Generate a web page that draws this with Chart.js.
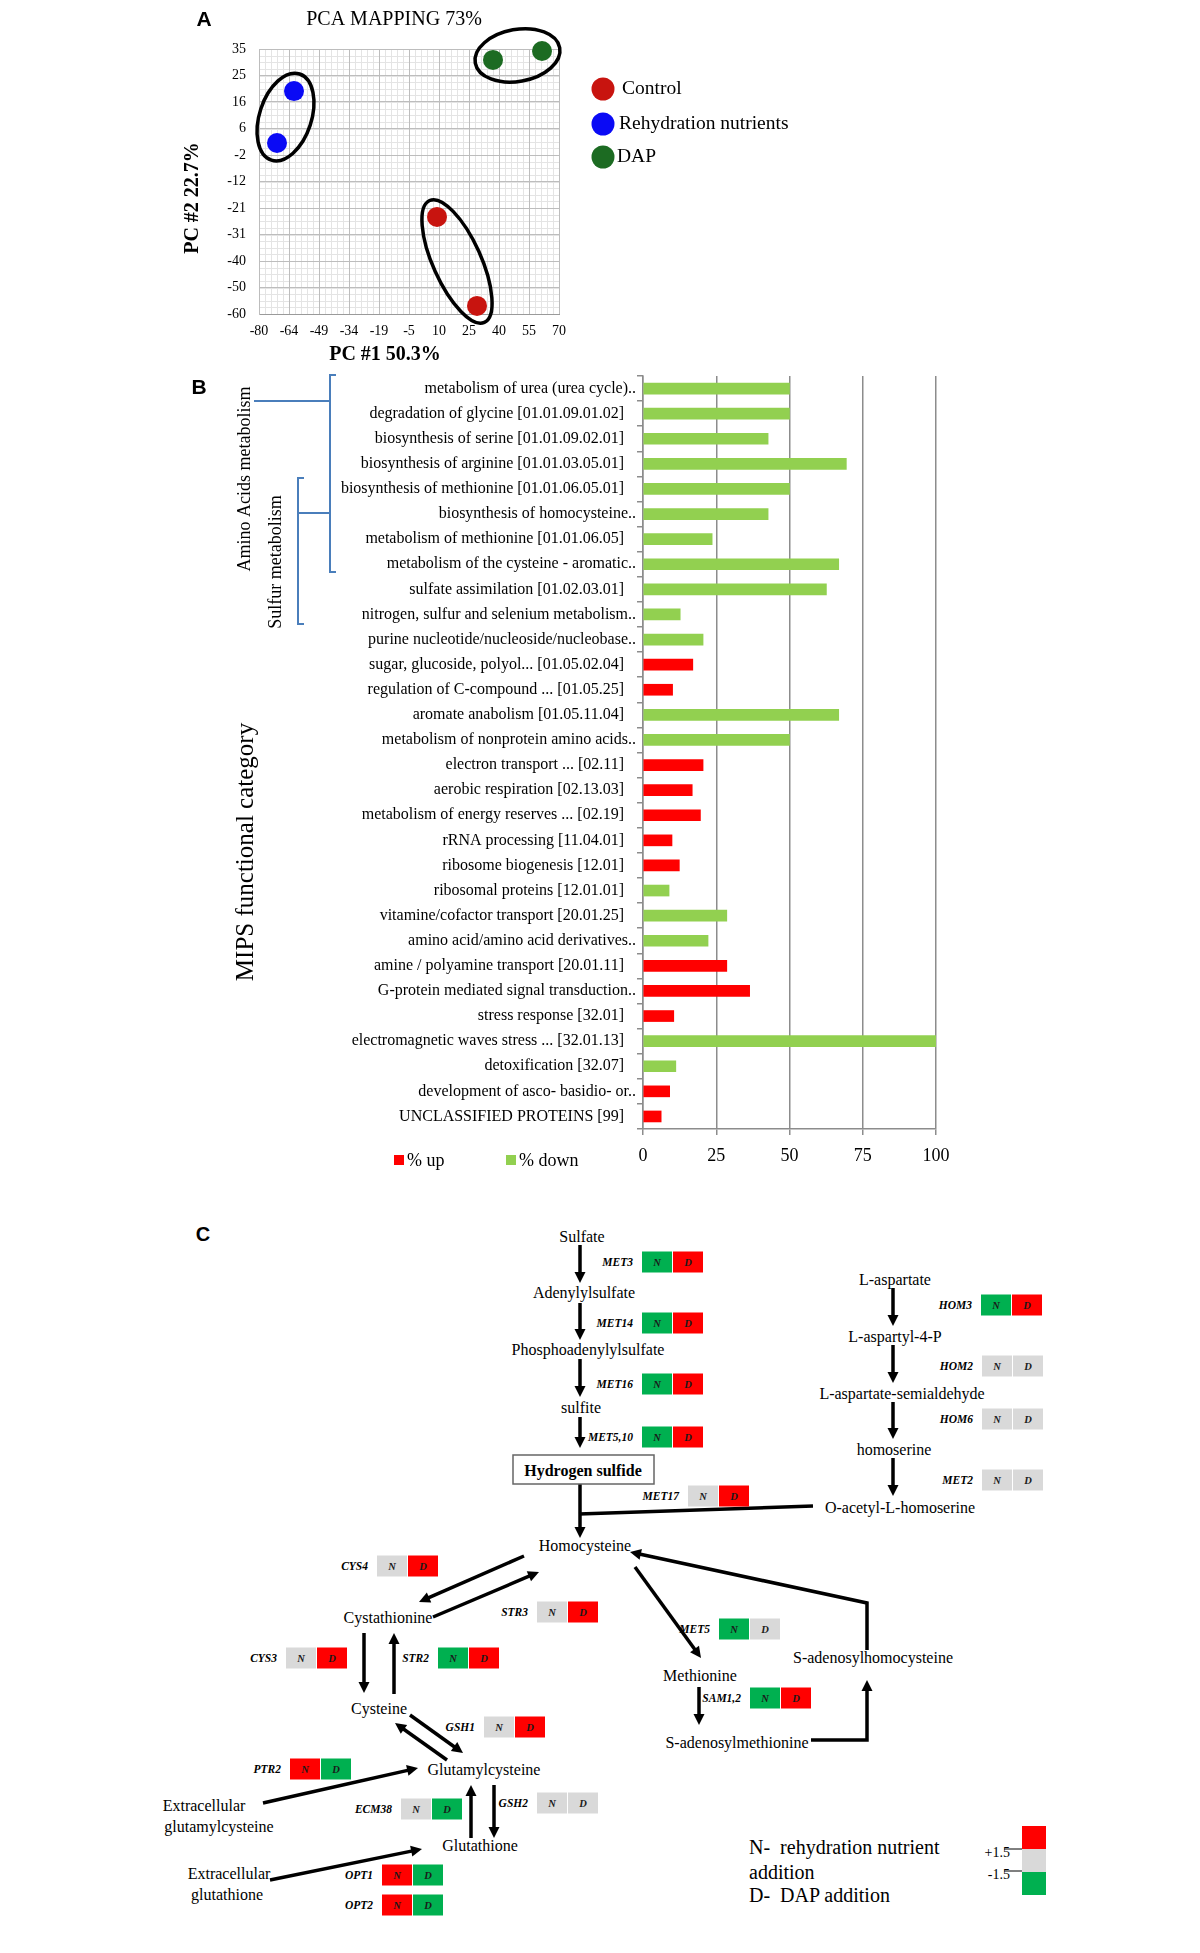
<!DOCTYPE html>
<html><head><meta charset="utf-8">
<script src="https://cdn.jsdelivr.net/npm/chart.js@4.4.1/dist/chart.umd.min.js"></script>
<style>
html,body{margin:0;padding:0;background:#fff;}
#page{position:relative;width:1200px;height:1953px;overflow:hidden;background:#fff;}
canvas,svg{position:absolute;left:0;}
#chartA,#chartB{top:0;}
#panelC{top:1190px;}
</style></head><body>
<div id="page">
<canvas id="chartA" width="1200" height="370"></canvas>
<canvas id="chartB" width="1200" height="1180"></canvas>
<svg id="panelC" xmlns="http://www.w3.org/2000/svg" width="1200" height="763" viewBox="0 1190 1200 763"></svg>
</div>
<script>
// ---------------- DATA ----------------
// Panel A: PCA scores
const pcaSeries = ['Control', 'Rehydration nutrients', 'DAP'];
const controlX = [9, 29];
const controlY = [-25.2, -57.1];
const rehydX = [-62.5, -71];
const rehydY = [19.9, 1.3];
const dapX = [37, 61.5];
const dapY = [31.1, 34.3];
const pcaXTicks = ['-80', '-64', '-49', '-34', '-19', '-5', '10', '25', '40', '55', '70'];
const pcaYTicks = ['-60', '-50', '-40', '-31', '-21', '-12', '-2', '6', '16', '25', '35'];

// Panel B: MIPS functional categories
const mipsCategories = [
  'metabolism of urea (urea cycle)..',
  'degradation of glycine [01.01.09.01.02]',
  'biosynthesis of serine [01.01.09.02.01]',
  'biosynthesis of arginine [01.01.03.05.01]',
  'biosynthesis of methionine [01.01.06.05.01]',
  'biosynthesis of homocysteine..',
  'metabolism of methionine [01.01.06.05]',
  'metabolism of the cysteine - aromatic..',
  'sulfate assimilation [01.02.03.01]',
  'nitrogen, sulfur and selenium metabolism..',
  'purine nucleotide/nucleoside/nucleobase..',
  'sugar, glucoside, polyol... [01.05.02.04]',
  'regulation of C-compound ... [01.05.25]',
  'aromate anabolism [01.05.11.04]',
  'metabolism of nonprotein amino acids..',
  'electron transport ... [02.11]',
  'aerobic respiration [02.13.03]',
  'metabolism of energy reserves ... [02.19]',
  'rRNA processing [11.04.01]',
  'ribosome biogenesis [12.01]',
  'ribosomal proteins [12.01.01]',
  'vitamine/cofactor transport [20.01.25]',
  'amino acid/amino acid derivatives..',
  'amine / polyamine transport [20.01.11]',
  'G-protein mediated signal transduction..',
  'stress response [32.01]',
  'electromagnetic waves stress ... [32.01.13]',
  'detoxification [32.07]',
  'development of asco- basidio- or..',
  'UNCLASSIFIED PROTEINS [99]'
];
const pctUp = [null, null, null, null, null, null, null, null, null, null, null, 17.0, 10.1, null, null,
  20.5, 16.8, 19.6, 9.9, 12.4, null, null, null, 28.6, 36.4, 10.5, null, null, 9.1, 6.2];
const pctDown = [50, 50, 42.7, 69.4, 50, 42.7, 23.6, 66.8, 62.6, 12.7, 20.5, null, null, 66.8, 50,
  null, null, null, null, null, 8.9, 28.6, 22.2, null, null, null, 100, 11.2, null, null];
const barSeries = ['% up', '% down'];

// Panel C: gene regulation (N = rehydration nutrients, D = DAP)
const geneNames = ['MET3', 'MET14', 'MET16', 'MET5,10', 'MET17', 'HOM3', 'HOM2', 'HOM6', 'MET2', 'CYS4', 'STR3',
  'CYS3', 'STR2', 'GSH1', 'PTR2', 'ECM38', 'GSH2', 'OPT1', 'OPT2', 'MET5', 'SAM1,2'];
const geneN = ['down', 'down', 'down', 'down', 'none', 'down', 'none', 'none', 'none', 'none', 'none',
  'none', 'down', 'none', 'up', 'none', 'none', 'up', 'up', 'down', 'down'];
const geneD = ['up', 'up', 'up', 'up', 'up', 'up', 'none', 'none', 'none', 'up', 'up',
  'up', 'up', 'up', 'down', 'down', 'none', 'down', 'down', 'none', 'up'];
const scaleLabels = ['+1.5', '-1.5'];

// ---------------- STYLE / LAYOUT ----------------
const SERIF = "'Liberation Serif', 'Times New Roman', serif";
const SANS = "'Liberation Sans', Arial, sans-serif";
const pcaColors = ['#c8140f', '#0a0af5', '#1c6b22'];
const upColor = '#ff0000', downColor = '#92d050';

function toPts(xs, ys) { return xs.map((x, i) => ({x: x, y: ys[i]})); }

// ---------------- PANEL A ----------------
const minorGridA = {
  id: 'minorGridA',
  beforeDraw(chart) {
    const {ctx, chartArea: a, scales: {x, y}} = chart;
    ctx.save();
    ctx.strokeStyle = '#e4e4e4';
    ctx.lineWidth = 1;
    ctx.beginPath();
    for (let v = -80; v <= 70.001; v += 3) {
      const px = Math.round(x.getPixelForValue(v)) + 0.5;
      ctx.moveTo(px, a.top); ctx.lineTo(px, a.bottom);
    }
    for (let v = -60; v <= 35.001; v += 9.5 / 4) {
      const py = Math.round(y.getPixelForValue(v)) + 0.5;
      ctx.moveTo(a.left, py); ctx.lineTo(a.right, py);
    }
    ctx.stroke();
    ctx.restore();
  }
};

const decorA = {
  id: 'decorA',
  afterDraw(chart) {
    const ctx = chart.ctx;
    ctx.save();
    // ellipses around replicate pairs
    chart.data.datasets.forEach((ds, di) => {
      const pts = chart.getDatasetMeta(di).data;
      const p1 = pts[0], p2 = pts[1];
      const cx = (p1.x + p2.x) / 2, cy = (p1.y + p2.y) / 2;
      const d = Math.hypot(p2.x - p1.x, p2.y - p1.y);
      const ang = Math.atan2(p2.y - p1.y, p2.x - p1.x);
      ctx.beginPath();
      ctx.ellipse(cx, cy, d / 2 + 18, di === 0 ? 24 : 26, ang, 0, Math.PI * 2);
      ctx.lineWidth = 3.5;
      ctx.strokeStyle = '#000';
      ctx.stroke();
    });
    // legend
    const ly = [89, 124, 157];
    const lx = [622, 619, 617];
    chart.data.datasets.forEach((ds, di) => {
      ctx.beginPath();
      ctx.arc(603, ly[di], 11.5, 0, Math.PI * 2);
      ctx.fillStyle = ds.backgroundColor;
      ctx.fill();
      ctx.fillStyle = '#000';
      ctx.font = '19.5px ' + SERIF;
      ctx.textAlign = 'left';
      ctx.textBaseline = 'middle';
      ctx.fillText(ds.label, lx[di], ly[di]);
    });
    // titles
    ctx.fillStyle = '#000';
    ctx.textAlign = 'center';
    ctx.textBaseline = 'middle';
    ctx.font = 'bold 21px ' + SANS;
    ctx.fillText('A', 204, 20);
    ctx.font = '20px ' + SERIF;
    ctx.fillText('PCA MAPPING 73%', 394, 20);
    ctx.font = 'bold 20px ' + SERIF;
    ctx.fillText('PC #1 50.3%', 385, 355);
    ctx.save();
    ctx.translate(193, 198);
    ctx.rotate(-Math.PI / 2);
    ctx.fillText('PC #2 22.7%', 0, 0);
    ctx.restore();
    ctx.restore();
  }
};

new Chart(document.getElementById('chartA'), {
  type: 'scatter',
  data: {
    datasets: [
      {label: pcaSeries[0], data: toPts(controlX, controlY), backgroundColor: pcaColors[0]},
      {label: pcaSeries[1], data: toPts(rehydX, rehydY), backgroundColor: pcaColors[1]},
      {label: pcaSeries[2], data: toPts(dapX, dapY), backgroundColor: pcaColors[2]}
    ].map(d => Object.assign(d, {pointRadius: 10, pointHoverRadius: 10, borderWidth: 0, clip: false}))
  },
  options: {
    responsive: false, animation: false, events: [],
    layout: {padding: {top: 49, right: 641, left: 0, bottom: 0}},
    plugins: {legend: {display: false}, tooltip: {enabled: false}, title: {display: false}},
    scales: {
      x: {
        type: 'linear', min: -80, max: 70,
        ticks: {stepSize: 15, autoSkip: false, maxRotation: 0, padding: 9, color: '#000',
          font: {family: SERIF, size: 14}, callback: (v, i) => pcaXTicks[i]},
        grid: {color: '#bdbdbd', lineWidth: 1, drawTicks: false},
        border: {color: '#9a9a9a', width: 1},
        afterFit: s => { s.height = 56; }
      },
      y: {
        type: 'linear', min: -60, max: 35,
        ticks: {stepSize: 9.5, autoSkip: false, padding: 13, color: '#000',
          font: {family: SERIF, size: 14}, callback: (v, i) => pcaYTicks[i]},
        grid: {color: '#bdbdbd', lineWidth: 1, drawTicks: false},
        border: {color: '#bdbdbd', width: 1},
        afterFit: s => { s.width = 259; }
      }
    }
  },
  plugins: [minorGridA, decorA]
});

// ---------------- PANEL B ----------------
const decorB = {
  id: 'decorB',
  afterDraw(chart) {
    const ctx = chart.ctx;
    ctx.save();
    ctx.fillStyle = '#000';
    ctx.textAlign = 'center';
    ctx.textBaseline = 'middle';
    ctx.font = 'bold 21px ' + SANS;
    ctx.fillText('B', 199, 388);
    const vtext = (t, x, y, f) => {
      ctx.save(); ctx.translate(x, y); ctx.rotate(-Math.PI / 2);
      ctx.font = f; ctx.fillText(t, 0, 0); ctx.restore();
    };
    vtext('MIPS functional category', 246, 852, '25px ' + SERIF);
    vtext('Amino Acids metabolism', 245, 479, '18px ' + SERIF);
    vtext('Sulfur metabolism', 276, 562, '18px ' + SERIF);
    // brackets
    ctx.strokeStyle = '#4a7ebb';
    ctx.lineWidth = 2;
    ctx.beginPath();
    ctx.moveTo(336, 375); ctx.lineTo(330, 375); ctx.lineTo(330, 572); ctx.lineTo(336, 572);
    ctx.moveTo(254, 401); ctx.lineTo(330, 401);
    ctx.moveTo(304, 478); ctx.lineTo(298, 478); ctx.lineTo(298, 624); ctx.lineTo(304, 624);
    ctx.moveTo(298, 513); ctx.lineTo(330, 513);
    ctx.stroke();
    // legend
    const legX = [394, 506];
    chart.data.datasets.forEach((ds, i) => {
      ctx.fillStyle = ds.backgroundColor;
      ctx.fillRect(legX[i], 1155, 10, 10);
      ctx.fillStyle = '#000';
      ctx.font = '18px ' + SERIF;
      ctx.textAlign = 'left';
      ctx.fillText(ds.label, legX[i] + 13, 1161);
    });
    ctx.restore();
  }
};

new Chart(document.getElementById('chartB'), {
  type: 'bar',
  data: {
    labels: mipsCategories,
    datasets: [
      {label: barSeries[0], data: pctUp, backgroundColor: upColor},
      {label: barSeries[1], data: pctDown, backgroundColor: downColor}
    ].map(d => Object.assign(d, {grouped: false, barThickness: 11, borderWidth: 0}))
  },
  options: {
    indexAxis: 'y',
    responsive: false, animation: false, events: [],
    layout: {padding: {top: 376, right: 264, left: 0, bottom: 0}},
    plugins: {legend: {display: false}, tooltip: {enabled: false}, title: {display: false}},
    scales: {
      x: {
        type: 'linear', min: 0, max: 100,
        ticks: {stepSize: 25, padding: 10, color: '#000', font: {family: SERIF, size: 18}},
        grid: {color: '#8c8c8c', lineWidth: 1.5, tickLength: 6},
        border: {color: '#8c8c8c', width: 1.5},
        afterFit: s => { s.height = 51; }
      },
      y: {
        type: 'category',
        ticks: {autoSkip: false, padding: 1, color: '#000', font: {family: SERIF, size: 16},
          callback: (v, i) => { const l = mipsCategories[i]; return l.endsWith('..') ? l : l + '   '; }},
        grid: {drawOnChartArea: false, drawTicks: true, tickLength: 6, color: '#8c8c8c', lineWidth: 1.5, offset: true},
        border: {color: '#8c8c8c', width: 1.5},
        afterFit: s => { s.width = 643; }
      }
    }
  },
  plugins: [decorB]
});

// ---------------- PANEL C (pathway diagram) ----------------
const svgNS = 'http://www.w3.org/2000/svg';
const svg = document.getElementById('panelC');
function el(tag, attrs, text) {
  const e = document.createElementNS(svgNS, tag);
  for (const k in attrs) e.setAttribute(k, attrs[k]);
  if (text != null) e.textContent = text;
  svg.appendChild(e);
  return e;
}
const stateColor = {up: '#ff0000', down: '#00b050', none: '#d9d9d9'};

// layout: [N-cell left x, cell centre y]
const genePos = [[642, 1262], [642, 1323], [642, 1384], [642, 1437], [688, 1496], [981, 1305], [982, 1366],
  [982, 1419], [982, 1480], [377, 1566], [537, 1612], [286, 1658], [438, 1658], [484, 1727], [290, 1769],
  [401, 1809], [537, 1803], [382, 1875], [382, 1905], [719, 1629], [750, 1698]];

function arrow(pts, head) {
  const p = pts.map(a => a.slice());
  if (head !== false) {
    const n = p.length;
    const [x1, y1] = p[n - 2], [x2, y2] = p[n - 1];
    const dx = x2 - x1, dy = y2 - y1, L = Math.hypot(dx, dy), ux = dx / L, uy = dy / L;
    const hl = 11, hw = 5.5;
    const bx = x2 - ux * hl, by = y2 - uy * hl;
    p[n - 1] = [bx + ux * 1.5, by + uy * 1.5];
    el('polyline', {points: p.map(a => a.join(',')).join(' '), fill: 'none', stroke: '#000', 'stroke-width': 3.5, 'stroke-linejoin': 'miter'});
    el('polygon', {points: `${x2},${y2} ${bx - uy * hw},${by + ux * hw} ${bx + uy * hw},${by - ux * hw}`, fill: '#000'});
  } else {
    el('polyline', {points: p.map(a => a.join(',')).join(' '), fill: 'none', stroke: '#000', 'stroke-width': 3.5});
  }
}

function txt(t, x, y, opts) {
  opts = opts || {};
  const e = el('text', {x: x, y: y, 'text-anchor': opts.anchor || 'middle', 'dominant-baseline': 'central',
    'font-family': SERIF, 'font-size': opts.size || 16, 'font-weight': opts.weight || 'normal',
    'font-style': opts.style || 'normal', fill: opts.fill || '#000'}, t);
  if (opts.pre) e.setAttribute('style', 'white-space:pre');
  return e;
}

// panel letter
el('text', {x: 203, y: 1234, 'text-anchor': 'middle', 'dominant-baseline': 'central', 'font-family': SANS,
  'font-size': 20, 'font-weight': 'bold'}, 'C');

// arrows
arrow([[580, 1245], [580, 1283]]);
arrow([[580, 1303], [580, 1340]]);
arrow([[580, 1359], [580, 1397]]);
arrow([[580, 1417], [580, 1448]]);
arrow([[580, 1484], [580, 1538]]);
arrow([[813, 1506], [579, 1514]], false);
arrow([[893, 1288], [893, 1326]]);
arrow([[893, 1345], [893, 1383]]);
arrow([[893, 1402], [893, 1439]]);
arrow([[893, 1458], [893, 1496]]);
arrow([[524, 1556], [419, 1602]]);
arrow([[433, 1617], [539, 1572]]);
arrow([[364, 1633], [364, 1693]]);
arrow([[394, 1694], [394, 1633]]);
arrow([[410, 1715], [463, 1753]]);
arrow([[447, 1760], [395, 1723]]);
arrow([[263, 1803], [418, 1768]]);
arrow([[471, 1838], [471, 1785]]);
arrow([[494, 1785], [494, 1838]]);
arrow([[270, 1880], [422, 1849]]);
arrow([[635, 1567], [701, 1658]]);
arrow([[699, 1687], [699, 1725]]);
arrow([[811, 1740], [867, 1740], [867, 1680]]);
arrow([[867, 1650], [867, 1603], [630, 1552]]);

// metabolite nodes
const nodes = [
  ['Sulfate', 582, 1236], ['Adenylylsulfate', 584, 1292], ['Phosphoadenylylsulfate', 588, 1349], ['sulfite', 581, 1407],
  ['Homocysteine', 585, 1545], ['L-aspartate', 895, 1279], ['L-aspartyl-4-P', 895, 1336],
  ['L-aspartate-semialdehyde', 902, 1393], ['homoserine', 894, 1449], ['O-acetyl-L-homoserine', 900, 1507],
  ['Cystathionine', 388, 1617], ['Cysteine', 379, 1708], ['Glutamylcysteine', 484, 1769], ['Glutathione', 480, 1845],
  ['Extracellular', 204, 1805], ['glutamylcysteine', 219, 1826], ['Extracellular', 229, 1873], ['glutathione', 227, 1894],
  ['Methionine', 700, 1675], ['S-adenosylmethionine', 737, 1742], ['S-adenosylhomocysteine', 873, 1657]
];
nodes.forEach(n => txt(n[0], n[1], n[2]));

// hydrogen sulfide box
el('rect', {x: 513, y: 1455, width: 141, height: 29, fill: '#fff', stroke: '#666', 'stroke-width': 1.5});
txt('Hydrogen sulfide', 583, 1470, {weight: 'bold'});

// gene heat cells
geneNames.forEach((g, i) => {
  const [x, cy] = genePos[i];
  const top = cy - 10.5;
  el('rect', {x: x, y: top, width: 30, height: 21, fill: stateColor[geneN[i]]});
  el('rect', {x: x + 31, y: top, width: 30, height: 21, fill: stateColor[geneD[i]]});
  txt('N', x + 15, cy, {size: 10.5, weight: 'bold', style: 'italic', fill: '#1a1a1a'});
  txt('D', x + 46, cy, {size: 10.5, weight: 'bold', style: 'italic', fill: '#1a1a1a'});
  txt(g, x - 9, cy, {anchor: 'end', size: 11.5, weight: 'bold', style: 'italic'});
});

// legend
txt('N-  rehydration nutrient', 749, 1847, {anchor: 'start', size: 20, pre: true});
txt('addition', 749, 1872, {anchor: 'start', size: 20});
txt('D-  DAP addition', 749, 1895, {anchor: 'start', size: 20, pre: true});
el('rect', {x: 1022, y: 1826, width: 24, height: 23, fill: stateColor.up});
el('rect', {x: 1022, y: 1849, width: 24, height: 23, fill: stateColor.none});
el('rect', {x: 1022, y: 1872, width: 24, height: 23, fill: stateColor.down});
el('line', {x1: 1004, y1: 1849, x2: 1022, y2: 1849, stroke: '#000', 'stroke-width': 1});
el('line', {x1: 1004, y1: 1871, x2: 1022, y2: 1871, stroke: '#000', 'stroke-width': 1});
txt(scaleLabels[0], 1010, 1852, {anchor: 'end', size: 14});
txt(scaleLabels[1], 1010, 1874, {anchor: 'end', size: 14});
</script>
</body></html>
